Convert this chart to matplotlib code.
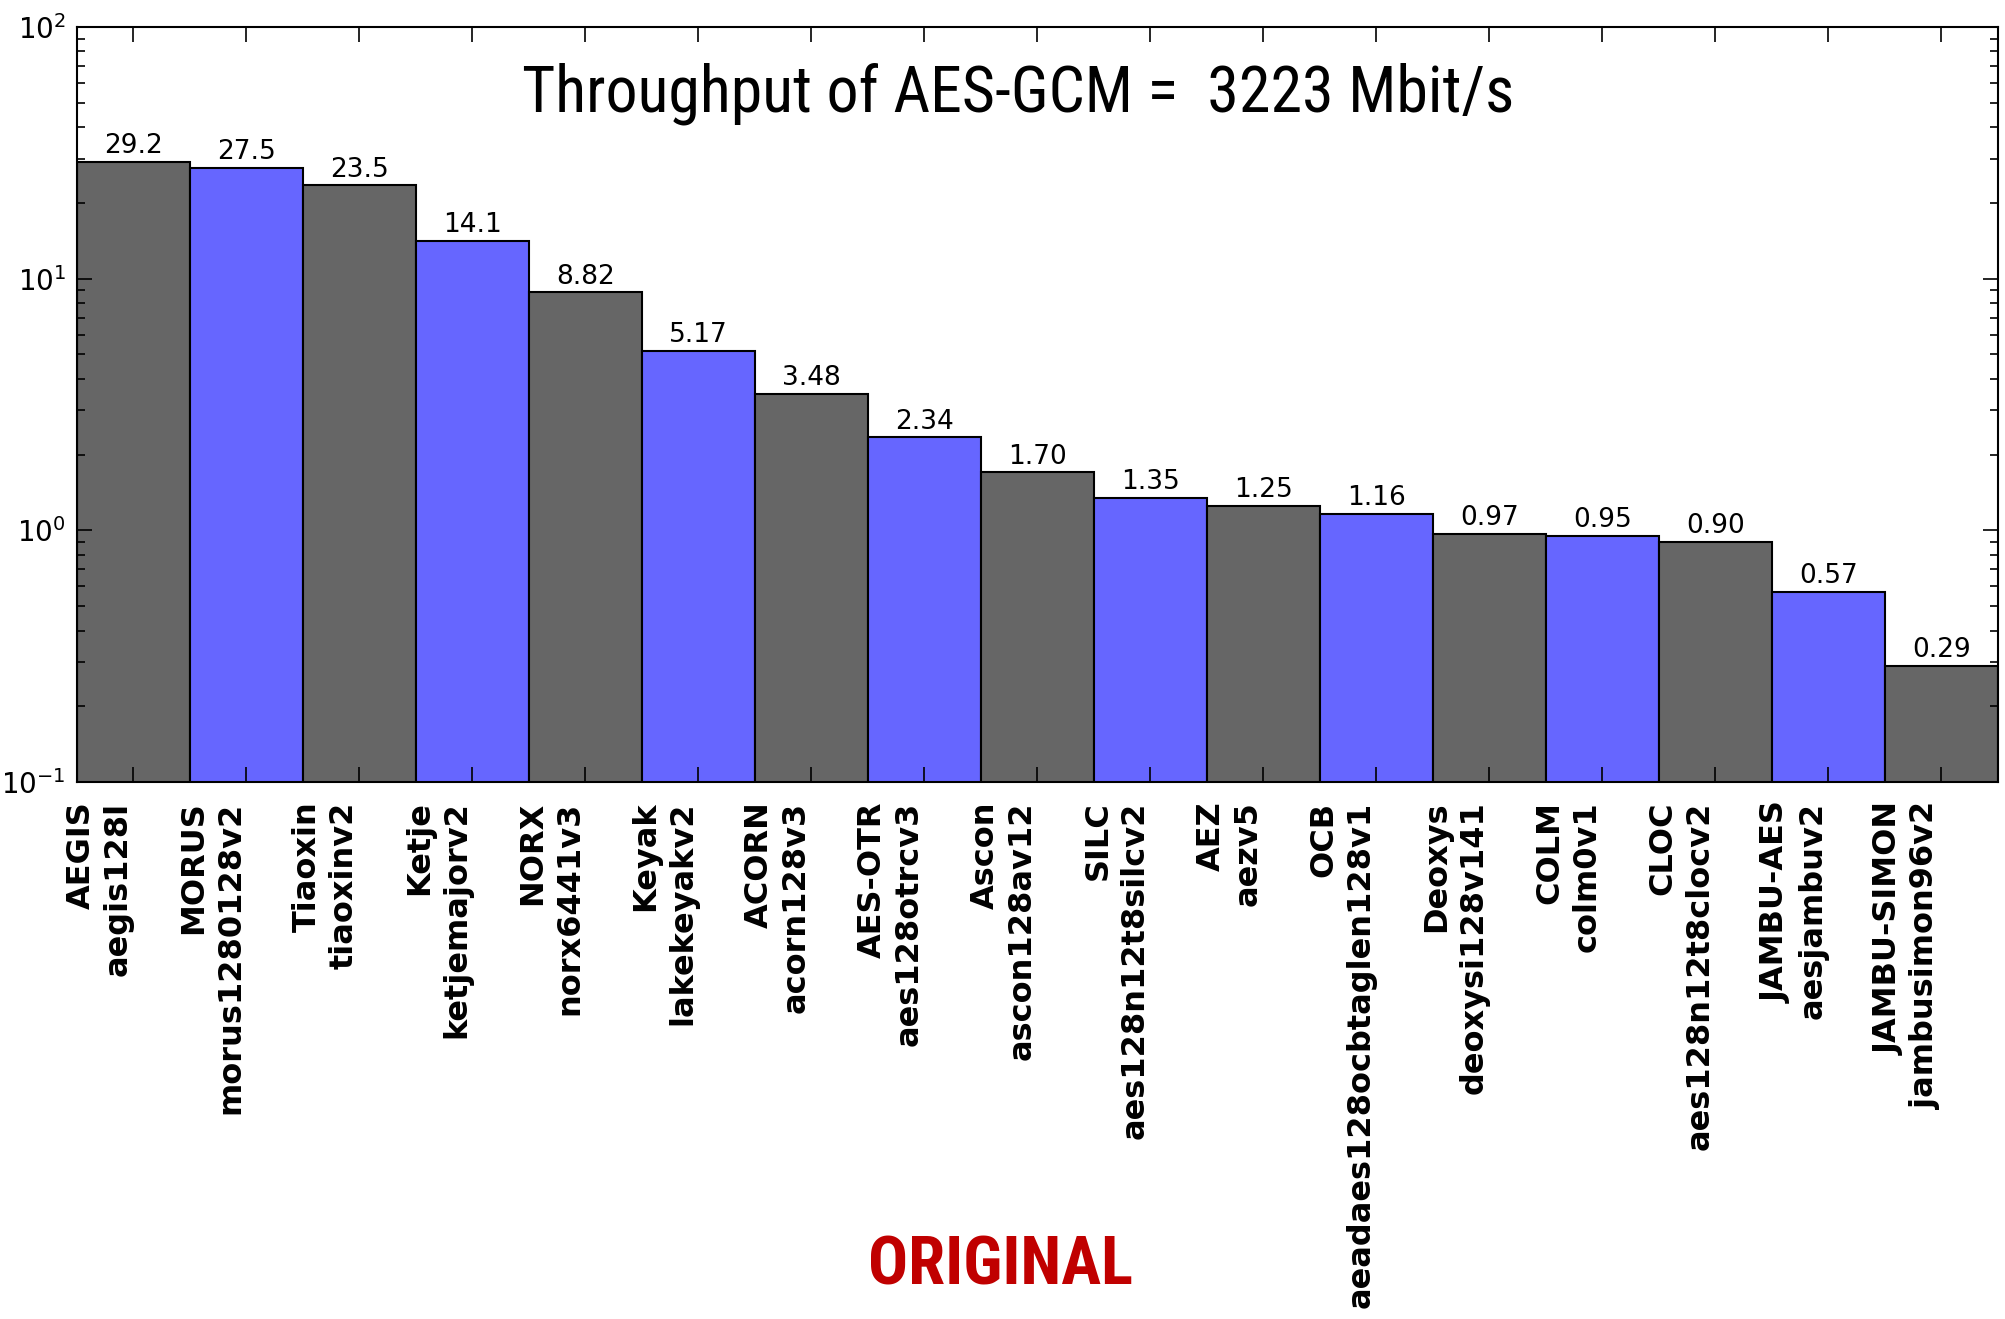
import matplotlib
matplotlib.use("Agg")
import matplotlib.pyplot as plt
import numpy as np

# data
families = ["AEGIS", "MORUS", "Tiaoxin", "Ketje", "NORX", "Keyak", "ACORN",
            "AES-OTR", "Ascon", "SILC", "AEZ", "OCB", "Deoxys", "COLM",
            "CLOC", "JAMBU-AES", "JAMBU-SIMON"]
variants = ["aegis128l", "morus1280128v2", "tiaoxinv2", "ketjemajorv2",
            "norx6441v3", "lakekeyakv2", "acorn128v3", "aes128otrcv3",
            "ascon128av12", "aes128n12t8silcv2", "aezv5",
            "aeadaes128ocbtaglen128v1", "deoxysi128v141", "colm0v1",
            "aes128n12t8clocv2", "aesjambuv2", "jambusimon96v2"]
speedup = [29.2, 27.5, 23.5, 14.1, 8.82, 5.17, 3.48, 2.34, 1.70, 1.35,
           1.25, 1.16, 0.97, 0.95, 0.90, 0.57, 0.29]
aes_gcm = 3223

gray = "#666666"
blue = "#6666ff"
# condensed face for the title, whichever is installed
narrow = ["Roboto Condensed", "Archivo Narrow", "DejaVu Sans"]

fig = plt.figure(figsize=(20.05, 13.19), dpi=100)
ax = fig.add_axes([0.0384, 0.4071, 0.9581, 0.5724])

x = np.arange(len(speedup))
colors = [gray if i % 2 == 0 else blue for i in x]
ax.bar(x, speedup, width=1.0, align="edge", color=colors,
       edgecolor="black", linewidth=1.5)
ax.set_yscale("log")
ax.set_ylim(0.1, 100)
ax.set_xlim(0, len(speedup))

# value labels above bars
for i, v in enumerate(speedup):
    s = "%.1f" % v if v >= 10 else "%.2f" % v
    ax.annotate(s, (i + 0.5, v), xytext=(0, 2), textcoords="offset points",
                ha="center", va="bottom", fontsize=19)

labels = [f + "\n" + v for f, v in zip(families, variants)]
ax.set_xticks(x + 0.5)
ax.set_xticklabels(labels, rotation=90, ha="right", fontsize=23,
                   fontweight="bold", linespacing=1.25)

ax.tick_params(which="both", direction="in", top=True, right=True)
ax.tick_params(which="major", length=11, width=1.2)
ax.tick_params(which="minor", length=6, width=1.2)
ax.tick_params(axis="x", pad=14)
ax.tick_params(axis="y", labelsize=20, pad=8)
for sp in ax.spines.values():
    sp.set_linewidth(1.5)

ax.text(0.49, 0.912, "Throughput of AES-GCM =  %d Mbit/s" % aes_gcm,
        transform=ax.transAxes, ha="center", va="center", fontsize=46,
        family=narrow)

fig.text(0.4988, 0.040, "ORIGINAL", ha="center", va="center", fontsize=48,
         fontweight="bold", color="#c00000", family=narrow)

fig.savefig("out.png", dpi=100)
